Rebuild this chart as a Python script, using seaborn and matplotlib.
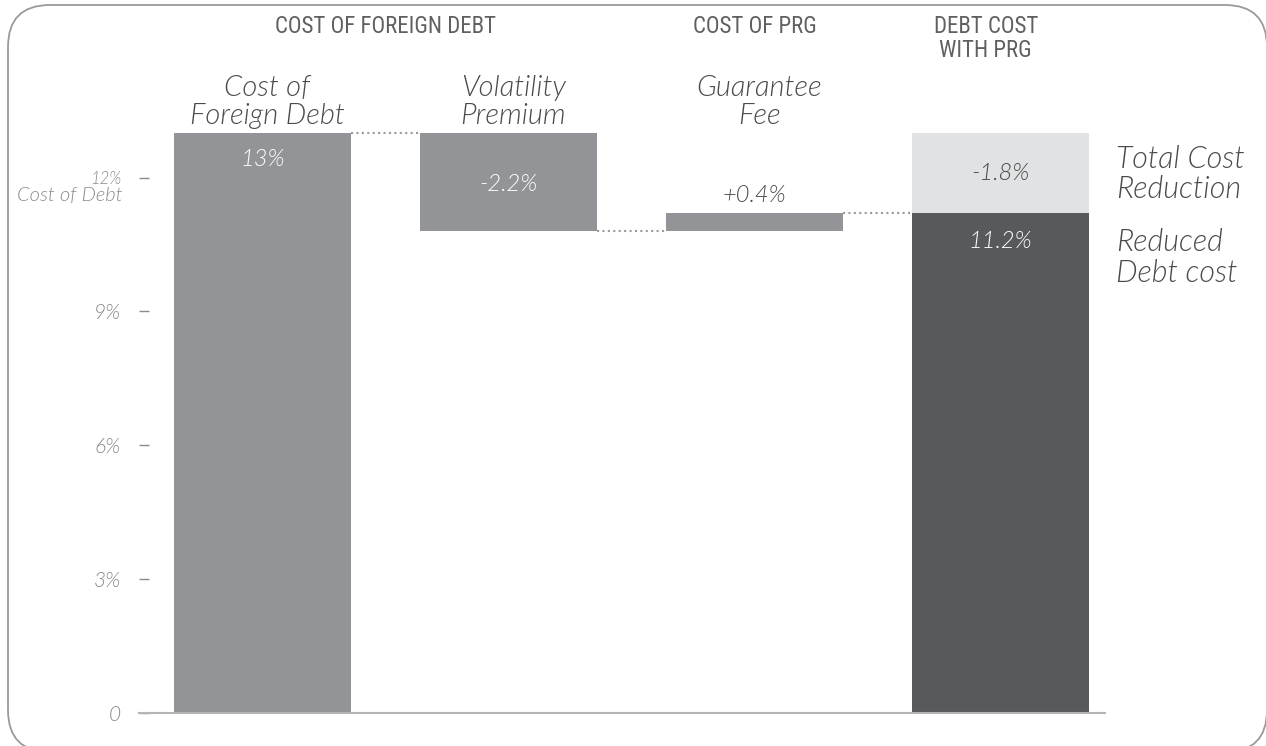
import matplotlib
matplotlib.use("Agg")
import matplotlib.pyplot as plt
from matplotlib import font_manager
from matplotlib.patches import FancyBboxPatch
import seaborn as sns
import pandas as pd

# ---------------- data ----------------
categories = ["Cost of\nForeign Debt", "Volatility\nPremium", "Guarantee\nFee", "Debt Cost\nwith PRG"]
headers = ["COST OF FOREIGN DEBT", "COST OF PRG", "DEBT COST\nWITH PRG"]
foreign_debt_cost = 13.0
volatility_premium = -2.2
guarantee_fee = 0.4
reduced_debt_cost = 11.2
total_cost_reduction = -1.8
value_labels = ["13%", "-2.2%", "+0.4%", "-1.8%", "11.2%"]
side_labels = ["Total Cost\nReduction", "Reduced\nDebt cost"]
y_ticks = [0, 3, 6, 9, 12]
y_tick_labels = ["0", "3%", "6%", "9%", "12%"]
y_axis_label = "Cost of Debt"

# ---------------- fonts ----------------
sns.set_theme(style="white")
names = {f.name for f in font_manager.fontManager.ttflist}
def pick(*cands):
    for c in cands:
        if c in names:
            return c
    return "DejaVu Sans"
main_font = pick("Lato", "Open Sans", "Noto Sans")
head_font = pick("Liberation Sans Narrow", "Roboto Condensed", "Lato")
plt.rcParams["font.family"] = [main_font, "DejaVu Sans"]
plt.rcParams["font.weight"] = 300

W, H = 1266, 746
fig = plt.figure(figsize=(W / 100, H / 100), dpi=100)
fig.patch.set_facecolor("white")

# rounded frame
frame = FancyBboxPatch((8 / 100, -6 / 100), (1267 - 8) / 100, (741 + 6) / 100,
                       boxstyle="round,pad=0,rounding_size=0.42",
                       transform=fig.dpi_scale_trans, fill=False,
                       edgecolor="#9a9a9a", linewidth=1.3, clip_on=False)
fig.add_artist(frame)

ax = fig.add_axes([139 / W, (H - 713) / H, (1105 - 139) / W, (713 - 133) / H])

MID = "#939497"
DARK = "#58595b"
LIGHT = "#e1e2e3"
TXT = "#4a4a4a"
bw = 0.72

# segments: category, bottom, height, color
after_vol = foreign_debt_cost + volatility_premium
segments = pd.DataFrame({
    "category": [categories[0], categories[1], categories[2], categories[3], categories[3]],
    "bottom": [0, after_vol, after_vol, 0, reduced_debt_cost],
    "height": [foreign_debt_cost, -volatility_premium, guarantee_fee,
               reduced_debt_cost, -total_cost_reduction],
    "color": [MID, MID, MID, DARK, LIGHT],
})
for _, r in segments.iterrows():
    sns.barplot(x=[r["category"]], y=[r["height"]], order=categories, color=r["color"],
                saturation=1, width=bw, bottom=r["bottom"], errorbar=None, ax=ax,
                linewidth=0)

ax.set_xlim(-0.502, 3.425)
ax.set_ylim(0, 13)
ax.set_xlabel("")
ax.set_ylabel("")
ax.set_xticks([])
for s in ["top", "right", "left"]:
    ax.spines[s].set_visible(False)
ax.spines["bottom"].set_color("#b5b5b5")
ax.spines["bottom"].set_linewidth(1.5)
ax.set_facecolor("none")

ax.set_yticks(y_ticks)
ax.set_yticklabels(y_tick_labels, fontstyle="italic", color="#8a8a8a", fontsize=15)
ax.get_yticklabels()[-1].set_fontsize(12)
ax.tick_params(axis="y", direction="in", length=7, width=1, color="#8a8a8a", pad=13, left=True)
ax.annotate(y_axis_label, xy=(0, y_ticks[-1]), xycoords=("axes fraction", "data"),
            xytext=(-12, -12.5), textcoords="offset points", ha="right", va="center",
            fontstyle="italic", color="#8a8a8a", fontsize=14.5)

# dotted connectors
tops = [foreign_debt_cost, after_vol, after_vol + guarantee_fee]
for i, level in enumerate(tops):
    ax.plot([i + bw / 2, i + 1 - bw / 2], [level, level], ls=(0, (1, 1.6)),
            color="#9a9a9a", lw=1.5, clip_on=False)

# category labels above bars
for i in range(3):
    ax.text(i + 0.02, 13.7, categories[i], ha="center", va="center", fontsize=21,
            fontstyle="italic", color=TXT, linespacing=1.08)

# headers
hx = [0.5, 2.0, 2.94]
for x, t in zip(hx, headers):
    ax.text(x, 15.64, t, ha="center", va="top", fontsize=16.5, color="#606060",
            family=[head_font, "DejaVu Sans"], fontweight="normal", linespacing=1.05)

# value labels
vfs = 17
ax.text(0, 12.4, value_labels[0], ha="center", va="center", fontsize=vfs,
        fontstyle="italic", color="white")
ax.text(1, 11.84, value_labels[1], ha="center", va="center", fontsize=vfs,
        fontstyle="italic", color="white")
ax.text(2, 11.61, value_labels[2], ha="center", va="center", fontsize=vfs,
        fontstyle="italic", color=TXT)
ax.text(3, 12.1, value_labels[3], ha="center", va="center", fontsize=vfs,
        fontstyle="italic", color=TXT)
ax.text(3, 10.56, value_labels[4], ha="center", va="center", fontsize=vfs,
        fontstyle="italic", color="white")

# side labels
ax.text(3.47, 12.07, side_labels[0], ha="left", va="center", fontsize=22,
        fontstyle="italic", color=TXT, linespacing=1.08)
ax.text(3.47, 10.2, side_labels[1], ha="left", va="center", fontsize=22,
        fontstyle="italic", color=TXT, linespacing=1.08)

fig.savefig("out.png", dpi=100)
